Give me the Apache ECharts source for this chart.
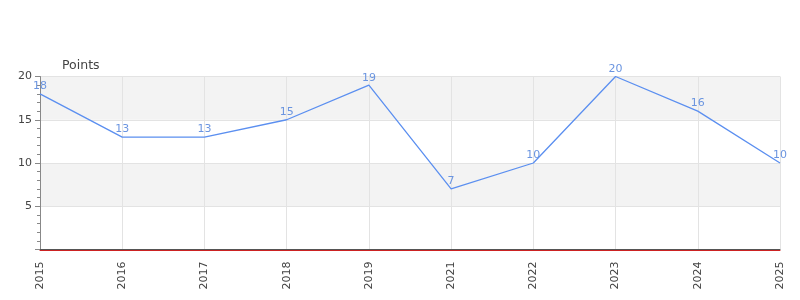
<!DOCTYPE html>
<html><head><meta charset="utf-8">
<script src="https://cdn.jsdelivr.net/npm/echarts@6/dist/echarts.min.js"></script>
<style>html,body{margin:0;padding:0;background:#fff}#c{width:800px;height:300px}</style>
</head><body><div id="c"></div>
<script>
const categories = ['2015','2016','2017','2018','2019','2021','2022','2023','2024','2025'];
const points = [18, 13, 13, 15, 19, 7, 10, 20, 16, 10];
const yTicks = [5, 10, 15, 20];

const chart = echarts.init(document.getElementById('c'), null, {renderer: 'canvas'});
chart.setOption({
  animation: false,
  textStyle: {fontFamily: 'DejaVu Sans'},
  grid: {left: 40, right: 20, top: 76.5, bottom: 50.5},
  xAxis: [{
    type: 'category', data: categories, boundaryGap: false,
    axisLine: {lineStyle: {color: '#555', width: 1}},
    axisTick: {show: false},
    axisLabel: {rotate: 90, color: '#444', fontSize: 11, margin: 12},
    splitLine: {show: true, lineStyle: {color: '#e3e3e3'}}
  }, {
    type: 'category', data: categories, boundaryGap: false, position: 'bottom', offset: 1,
    axisLine: {lineStyle: {color: '#cc2222', width: 1}},
    axisTick: {show: false}, axisLabel: {show: false}, splitLine: {show: false}
  }],
  yAxis: {
    type: 'value', min: 0, max: 20, interval: 5,
    name: 'Points', nameLocation: 'end', nameGap: 4,
    nameTextStyle: {color: '#444', fontSize: 12.5, align: 'left', padding: [0,0,0,22]},
    axisLine: {show: true, lineStyle: {color: '#888'}},
    axisTick: {show: true, length: 5, lineStyle: {color: '#888'}},
    minorTick: {show: true, splitNumber: 5, length: 3, lineStyle: {color: '#888'}},
    axisLabel: {color: '#444', fontSize: 11, margin: 8,
      formatter: v => yTicks.includes(v) ? String(v) : ''},
    splitLine: {show: true, lineStyle: {color: '#e3e3e3'}},
    splitArea: {show: true, areaStyle: {color: ['#ffffff', '#f3f3f3']}}
  },
  series: [{
    type: 'line', data: points, showSymbol: true, symbol: 'circle', symbolSize: 0,
    lineStyle: {color: '#5b8ff0', width: 1.3},
    itemStyle: {color: '#5b8ff0'},
    label: {show: true, position: 'top', color: '#6b95e0', fontSize: 11, distance: 2}
  }]
});
</script></body></html>
